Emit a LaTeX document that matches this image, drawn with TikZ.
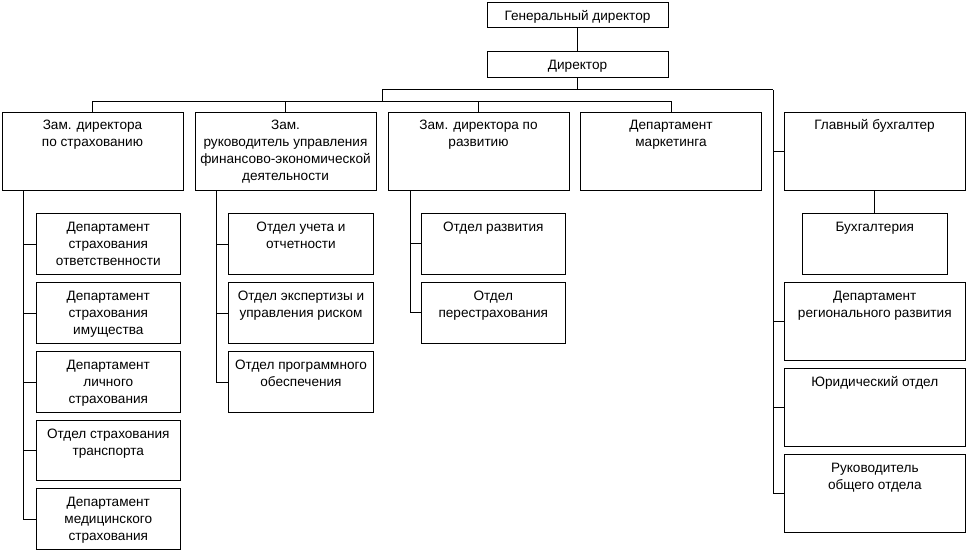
\documentclass[tikz,border=0pt]{standalone}
\usepackage{fontspec}
\setmainfont{Liberation Sans}
\begin{document}
\begin{tikzpicture}[x=1pt,y=-1pt,
  box/.style={draw=black, line width=1pt, rectangle, inner sep=0pt},
  txt/.style={font=\fontsize{13.6}{17}\selectfont, align=center, inner sep=0pt, text=black},
  conn/.style={draw=black, line width=1pt}]
\useasboundingbox (0,0) rectangle (967,551);
\newcommand\orgbox[6]{%
  \node[box, minimum width=#4pt, minimum height=#5pt] (#1) at (#2,#3) {};
  \node[txt, anchor=north] (#1t) at ([yshift=-5pt]#1.north) {\rule{0pt}{13pt}#6};}
% top
\node[box, minimum width=181pt, minimum height=25pt] (gd) at (577.5,15.5) {};
\node[txt, anchor=north] (gdt) at ([yshift=-4.8pt]gd.north) {\rule{0pt}{13pt}Генеральный директор};
\node[box, minimum width=181pt, minimum height=26pt] (dir) at (577.5,65) {};
\node[txt, anchor=north] (dirt) at ([yshift=-4.8pt]dir.north) {\rule{0pt}{13pt}Директор};
% second level
\orgbox{z1}{92.5}{151}{181}{78}{Зам. директора\\по страхованию}
\orgbox{z2}{285.5}{151}{181}{78}{Зам.\\руководитель управления\\финансово-экономической\\деятельности}
\orgbox{z3}{478.5}{151}{181}{78}{Зам. директора по\\развитию}
\orgbox{mk}{671}{151}{181}{78}{Департамент\\маркетинга}
\orgbox{gb}{874.5}{151}{181}{78}{Главный бухгалтер}
% column 1
\orgbox{a1}{108.3}{244}{144}{60.6}{Департамент\\страхования\\ответственности}
\orgbox{a2}{108.3}{313}{144}{60.6}{Департамент\\страхования\\имущества}
\orgbox{a3}{108.3}{382}{144}{60.6}{Департамент\\личного\\страхования}
\orgbox{a4}{108.3}{450.2}{144}{59.7}{Отдел страхования\\транспорта}
\orgbox{a5}{108.3}{519}{144}{60.6}{Департамент\\медицинского\\страхования}
% column 2
\orgbox{b1}{301}{244}{145.4}{60.6}{Отдел учета и\\отчетности}
\orgbox{b2}{301}{313}{145.4}{60.6}{Отдел экспертизы и\\управления риском}
\orgbox{b3}{301}{382}{145.4}{60.6}{Отдел программного\\обеспечения}
% column 3
\orgbox{c1}{493.3}{243.7}{144}{60.7}{Отдел развития}
\orgbox{c2}{493.3}{312.8}{144}{61}{Отдел\\перестрахования}
% right column
\orgbox{buh}{874.8}{243.7}{145}{60.7}{Бухгалтерия}
\orgbox{reg}{874.8}{321.2}{181}{77.7}{Департамент\\регионального развития}
\orgbox{yur}{874.8}{407.2}{181}{77.7}{Юридический отдел}
\orgbox{ruk}{874.8}{493.2}{181}{77.7}{Руководитель\\общего отдела}
% connectors
\coordinate (bus1) at (577.5,90);
\coordinate (bus1l) at (382.3,90);
\coordinate (bus1r) at (773.3,90);
\coordinate (bus2) at (382.3,101);
\draw[conn] (gd.south) -- (dir.south |- dir.north);
\draw[conn] (dir.south) -- (bus1);
\draw[conn] (bus1l) -- (bus1r);
\draw[conn] (bus1l) -- (bus2);
\draw[conn] (z1.north |- bus2) -- (mk.north |- bus2);
\draw[conn] (z1.north |- bus2) -- (z1.north);
\draw[conn] (z2.north |- bus2) -- (z2.north);
\draw[conn] (z3.north |- bus2) -- (z3.north);
\draw[conn] (mk.north |- bus2) -- (mk.north);
% right trunk
\draw[conn] (bus1r) |- (ruk.west);
\draw[conn] (gb.west -| bus1r) -- (gb.west);
\draw[conn] (reg.west -| bus1r) -- (reg.west);
\draw[conn] (yur.west -| bus1r) -- (yur.west);
\draw[conn] (gb.south -| buh.north) -- (buh.north);
% column trunks
\coordinate (v1) at ([xshift=22pt]z1.south west);
\coordinate (v2) at ([xshift=22pt]z2.south west);
\coordinate (v3) at ([xshift=22.5pt]z3.south west);
\draw[conn] (v1) |- (a5.west);
\draw[conn] (a1.west -| v1) -- (a1.west);
\draw[conn] (a2.west -| v1) -- (a2.west);
\draw[conn] (a3.west -| v1) -- (a3.west);
\draw[conn] (a4.west -| v1) -- (a4.west);
\draw[conn] (v2) |- (b3.west);
\draw[conn] (b1.west -| v2) -- (b1.west);
\draw[conn] (b2.west -| v2) -- (b2.west);
\draw[conn] (v3) |- (c2.west);
\draw[conn] (c1.west -| v3) -- (c1.west);
\end{tikzpicture}
\end{document}
